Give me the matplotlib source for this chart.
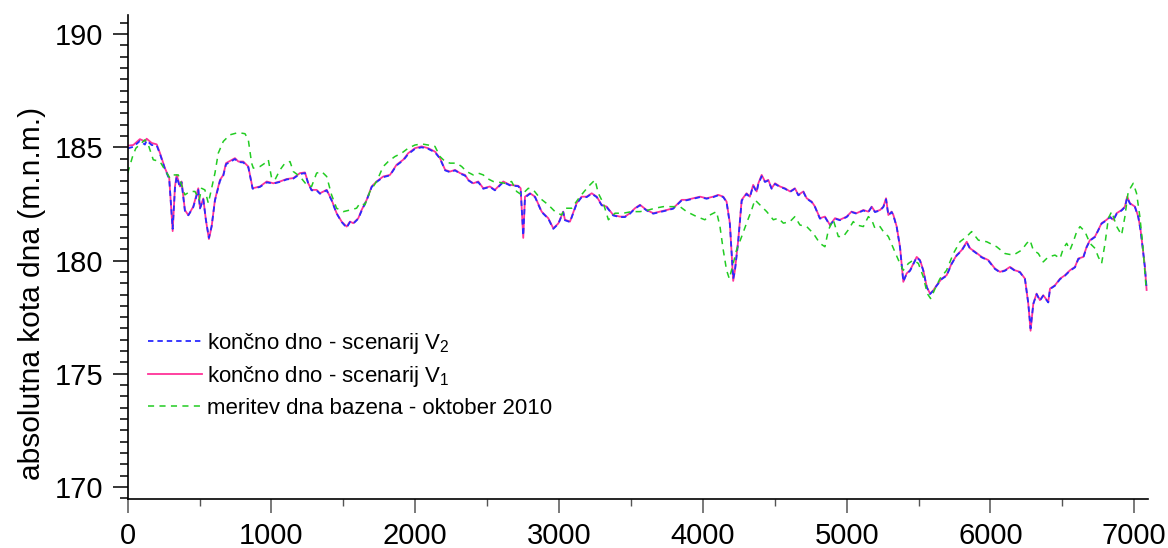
import matplotlib
matplotlib.use("Agg")
import matplotlib.pyplot as plt
from matplotlib.ticker import MultipleLocator

plt.rcParams['font.family'] = ['Liberation Sans', 'DejaVu Sans']
plt.rcParams['mathtext.fontset'] = 'custom'
plt.rcParams['mathtext.rm'] = 'Liberation Sans'
plt.rcParams['mathtext.it'] = 'Liberation Sans:italic'

# ---------------- data ----------------
dist_v = [0, 39, 85, 120, 132, 167, 202, 225, 259, 289, 313, 329, 341, 364, 375, 398, 422, 456, 491, 503,
          526, 544, 565, 584, 607, 642, 665, 684, 746, 770, 804, 839, 869, 920, 967, 1013, 1059, 1106, 1152, 1198,
          1233, 1256, 1279, 1314, 1337, 1384, 1418, 1453, 1488, 1523, 1546, 1569, 1604, 1627, 1662, 1697, 1731, 1777, 1824, 1870,
          1916, 1951, 1998, 2044, 2090, 2137, 2172, 2208, 2242, 2277, 2311, 2346, 2369, 2403, 2438, 2473, 2519, 2554, 2612, 2658,
          2716, 2733, 2751, 2763, 2798, 2833, 2879, 2925, 2960, 2995, 3029, 3041, 3076, 3122, 3157, 3192, 3227, 3262, 3296, 3331,
          3377, 3423, 3458, 3493, 3528, 3563, 3609, 3655, 3702, 3748, 3794, 3853, 3887, 3934, 3980, 4026, 4072, 4107, 4142, 4165,
          4188, 4211, 4223, 4246, 4270, 4304, 4327, 4350, 4374, 4386, 4409, 4432, 4455, 4478, 4502, 4536, 4571, 4606, 4640, 4664,
          4699, 4722, 4757, 4780, 4814, 4849, 4884, 4919, 4953, 5000, 5034, 5069, 5116, 5151, 5174, 5197, 5232, 5255, 5274, 5290,
          5313, 5325, 5348, 5371, 5394, 5417, 5441, 5464, 5487, 5510, 5533, 5557, 5580, 5603, 5626, 5661, 5695, 5730, 5765, 5800,
          5835, 5858, 5892, 5939, 5985, 6031, 6066, 6101, 6136, 6170, 6205, 6240, 6263, 6279, 6298, 6321, 6344, 6367, 6402, 6414,
          6449, 6484, 6518, 6553, 6588, 6611, 6646, 6669, 6692, 6727, 6750, 6773, 6808, 6831, 6855, 6878, 6912, 6935, 6951, 6970,
          7005, 7028, 7044, 7058, 7074, 7086]

bed_v1 = [185.07, 185.10, 185.36, 185.26, 185.38, 185.19, 185.13, 184.74, 184.08, 183.64, 181.3, 183.27, 183.78, 183.27, 183.49, 182.23, 182.0, 182.38, 183.19, 182.31,
          182.74, 181.79, 180.95, 181.5, 182.68, 183.56, 183.78, 184.3, 184.52, 184.37, 184.37, 184.15, 183.19, 183.27, 183.49, 183.41, 183.49, 183.6, 183.64, 183.86,
          183.89, 183.41, 183.12, 183.12, 182.97, 183.12, 182.68, 182.09, 181.72, 181.5, 181.72, 181.65, 181.87, 182.23, 182.68, 183.27, 183.49, 183.71, 183.78, 184.23,
          184.45, 184.74, 184.96, 185.04, 184.96, 184.81, 184.52, 184.0, 183.93, 184.0, 183.86, 183.78, 183.56, 183.41, 183.49, 183.19, 183.27, 183.12, 183.49, 183.34,
          183.3, 183.19, 181.0, 182.82, 182.97, 182.82, 182.16, 181.87, 181.42, 181.64, 182.16, 181.8, 181.72, 182.53, 182.82, 182.82, 182.97, 182.82, 182.46, 182.38,
          182.01, 181.94, 181.94, 182.09, 182.31, 182.46, 182.23, 182.09, 182.16, 182.23, 182.31, 182.68, 182.68, 182.75, 182.82, 182.75, 182.82, 182.9, 182.82, 182.6,
          181.65, 179.1, 179.57, 180.9, 182.68, 182.97, 182.82, 183.34, 183.05, 183.41, 183.78, 183.49, 183.56, 183.19, 183.41, 183.27, 183.19, 183.05, 183.19, 182.9,
          183.05, 182.75, 182.6, 182.38, 181.87, 181.94, 181.57, 181.87, 181.8, 181.94, 182.16, 182.09, 182.23, 182.16, 182.38, 182.16, 182.23, 182.38, 182.75, 182.01,
          182.16, 182.01, 181.5, 180.61, 179.06, 179.43, 179.57, 179.87, 180.16, 180.02, 179.57, 178.84, 178.54, 178.69, 178.91, 179.2, 179.35, 179.87, 180.24, 180.46,
          180.83, 180.54, 180.39, 180.16, 180.02, 179.65, 179.5, 179.57, 179.72, 179.57, 179.5, 179.2, 178.1, 176.9, 178.1, 178.54, 178.25, 178.47, 178.17, 178.76,
          178.91, 179.2, 179.35, 179.57, 179.72, 180.09, 180.16, 180.61, 180.9, 181.06, 181.35, 181.65, 181.8, 181.94, 181.8, 182.09, 182.23, 182.38, 182.82, 182.53,
          182.38, 181.94, 181.35, 180.61, 179.72, 178.7]

bed_v2 = [184.95, 185.02, 185.28, 185.12, 185.30, 185.10, 185.08, 184.70, 184.05, 183.60, 181.4, 183.20, 183.70, 183.22, 183.45, 182.20, 182.0, 182.35, 183.12, 182.30,
          182.70, 181.80, 181.0, 181.52, 182.65, 183.52, 183.75, 184.25, 184.48, 184.35, 184.33, 184.12, 183.17, 183.25, 183.45, 183.40, 183.47, 183.58, 183.62, 183.82,
          183.86, 183.40, 183.10, 183.10, 182.95, 183.10, 182.66, 182.08, 181.70, 181.45, 181.70, 181.63, 181.85, 182.20, 182.66, 183.25, 183.47, 183.68, 183.76, 184.20,
          184.42, 184.70, 184.93, 185.00, 184.93, 184.78, 184.50, 183.98, 183.90, 183.98, 183.84, 183.75, 183.54, 183.40, 183.46, 183.17, 183.25, 183.10, 183.46, 183.32,
          183.28, 183.15, 181.1, 182.78, 182.95, 182.80, 182.14, 181.85, 181.40, 181.62, 182.14, 181.78, 181.70, 182.50, 182.80, 182.80, 182.95, 182.80, 182.44, 182.36,
          181.99, 181.92, 181.92, 182.07, 182.29, 182.44, 182.21, 182.07, 182.14, 182.21, 182.29, 182.66, 182.66, 182.73, 182.80, 182.73, 182.80, 182.88, 182.80, 182.58,
          181.60, 179.2, 179.55, 180.85, 182.64, 182.94, 182.80, 183.30, 183.03, 183.38, 183.72, 183.47, 183.53, 183.17, 183.38, 183.25, 183.17, 183.03, 183.17, 182.88,
          183.03, 182.73, 182.58, 182.36, 181.85, 181.92, 181.55, 181.85, 181.78, 181.92, 182.14, 182.07, 182.21, 182.14, 182.36, 182.14, 182.21, 182.36, 182.70, 182.00,
          182.14, 181.99, 181.48, 180.58, 179.08, 179.41, 179.55, 179.85, 180.14, 180.00, 179.55, 178.82, 178.52, 178.67, 178.89, 179.18, 179.33, 179.85, 180.22, 180.44,
          180.80, 180.52, 180.37, 180.14, 180.00, 179.63, 179.48, 179.55, 179.70, 179.55, 179.48, 179.18, 178.12, 177.0, 178.08, 178.52, 178.23, 178.45, 178.15, 178.74,
          178.89, 179.18, 179.33, 179.55, 179.70, 180.07, 180.14, 180.59, 180.88, 181.04, 181.33, 181.63, 181.78, 181.92, 181.78, 182.07, 182.21, 182.36, 182.78, 182.51,
          182.36, 181.92, 181.33, 180.59, 179.70, 178.75]

dist_meas = [0, 34, 57, 120, 144, 178, 225, 259, 294, 317, 352, 375, 398, 433, 468, 498, 514, 537, 561, 584,
             607, 630, 665, 711, 769, 816, 839, 862, 874, 920, 955, 978, 1001, 1024, 1059, 1094, 1129, 1152, 1198, 1245,
             1279, 1314, 1349, 1384, 1418, 1453, 1500, 1546, 1592, 1615, 1650, 1685, 1731, 1777, 1812, 1858, 1905, 1951, 1998, 2044,
             2090, 2137, 2172, 2208, 2242, 2288, 2323, 2357, 2403, 2438, 2473, 2496, 2542, 2589, 2624, 2670, 2705, 2740, 2786, 2821,
             2868, 2925, 2972, 3018, 3041, 3088, 3145, 3204, 3250, 3273, 3308, 3343, 3389, 3447, 3505, 3563, 3621, 3667, 3725, 3771,
             3841, 3887, 3957, 4014, 4049, 4095, 4119, 4142, 4165, 4184, 4211, 4234, 4270, 4304, 4339, 4362, 4397, 4444, 4490, 4525,
             4560, 4606, 4640, 4675, 4722, 4768, 4814, 4849, 4873, 4907, 4942, 4977, 5011, 5046, 5069, 5116, 5151, 5174, 5197, 5232,
             5255, 5290, 5325, 5360, 5394, 5429, 5464, 5499, 5533, 5561, 5584, 5615, 5649, 5695, 5742, 5788, 5835, 5869, 5916, 5974,
             6043, 6101, 6159, 6217, 6252, 6275, 6298, 6333, 6367, 6402, 6449, 6484, 6507, 6530, 6553, 6576, 6600, 6623, 6657, 6692,
             6727, 6750, 6773, 6797, 6820, 6843, 6878, 6912, 6935, 6958, 6993, 7016, 7039, 7058, 7081]

bed_meas = [183.86, 184.59, 184.96, 185.33, 185.1, 184.45, 184.37, 184.0, 183.64, 183.78, 183.78, 183.34, 182.9, 183.05, 183.05, 182.68, 183.19, 183.12, 182.53, 183.19,
            183.86, 184.74, 185.26, 185.55, 185.65, 185.6, 185.33, 184.3, 184.08, 184.15, 184.3, 184.45, 183.64, 183.56, 184.0, 184.3, 184.37, 183.93, 183.71, 183.34,
            183.27, 183.86, 183.93, 183.71, 182.9, 182.31, 182.16, 182.23, 182.31, 182.53, 182.46, 183.05, 183.49, 184.15, 184.37, 184.59, 184.74, 184.96, 185.1, 185.15,
            185.1, 185.04, 184.59, 184.37, 184.3, 184.3, 184.15, 183.93, 183.78, 183.86, 183.78, 183.64, 183.49, 183.45, 183.41, 183.49, 183.05, 182.9, 183.19, 183.12,
            182.75, 182.46, 182.16, 182.01, 182.31, 182.31, 182.82, 183.27, 183.56, 182.97, 182.53, 181.8, 182.09, 182.09, 182.16, 182.16, 182.23, 182.31, 182.38, 182.38,
            182.38, 182.16, 181.94, 181.8, 182.01, 182.16, 181.5, 180.46, 179.57, 179.2, 179.86, 180.46, 181.06, 181.65, 182.23, 182.68, 182.46, 182.16, 181.8, 181.87,
            181.65, 181.72, 181.94, 181.57, 181.5, 181.2, 180.76, 180.61, 181.35, 181.8, 181.06, 181.06, 181.35, 181.72, 181.57, 181.5, 181.94, 181.8, 181.42, 181.5,
            181.28, 181.06, 180.54, 180.02, 179.57, 179.87, 180.02, 179.87, 179.28, 178.54, 178.32, 178.76, 179.2, 179.57, 180.31, 180.83, 181.06, 181.28, 180.9, 180.83,
            180.61, 180.31, 180.24, 180.46, 180.76, 180.9, 180.46, 180.31, 179.94, 180.16, 180.24, 180.09, 180.54, 180.76, 180.46, 180.83, 181.28, 181.5, 181.28, 180.76,
            180.54, 180.16, 179.87, 180.76, 181.87, 182.16, 181.5, 181.13, 181.94, 183.04, 183.41, 182.97, 181.94, 180.76, 178.91]

label_v2 = 'končno dno - scenarij V$_2$'
label_v1 = 'končno dno - scenarij V$_1$'
label_meas = 'meritev dna bazena - oktober 2010'
y_label = 'absolutna kota dna (m.n.m.)'
x_ticks = [0, 1000, 2000, 3000, 4000, 5000, 6000, 7000]
y_ticks = [170, 175, 180, 185, 190]

# ---------------- plot ----------------
fig = plt.figure(figsize=(11.68, 5.48), dpi=100)
ax = fig.add_axes([0.1093, 0.0889, 0.8735, 0.8837])

ln_v1, = ax.plot(dist_v, bed_v1, color='#ff3399', lw=1.3, solid_joinstyle='round')
ln_v2, = ax.plot(dist_v, bed_v2, color='#2a2aff', lw=1.3, dashes=(3.0, 2.2))
ln_m, = ax.plot(dist_meas, bed_meas, color='#22cc22', lw=1.1, dashes=(4.0, 3.5))

ax.set_xlim(0, 7095)
ax.set_ylim(169.46, 190.84)
ax.set_xticks(x_ticks)
ax.set_yticks(y_ticks)
ax.xaxis.set_minor_locator(MultipleLocator(500))
ax.yaxis.set_minor_locator(MultipleLocator(0.5))

for s in ('top', 'right'):
    ax.spines[s].set_visible(False)
for s in ('left', 'bottom'):
    ax.spines[s].set_linewidth(1.2)
    ax.spines[s].set_color('black')

ax.tick_params(axis='both', which='major', direction='out', labelsize=21, width=1.1)
ax.tick_params(axis='y', which='major', length=10.5, pad=7)
ax.tick_params(axis='y', which='minor', length=5.5, width=1.1)
ax.tick_params(axis='x', which='major', length=10, pad=6, color='#555555')
ax.tick_params(axis='x', which='minor', length=5, width=1.0, color='#555555')

ax.set_ylabel(y_label, fontsize=21.5)
ax.yaxis.set_label_coords(-0.080, 0.425)

leg = ax.legend([ln_v2, ln_v1, ln_m], [label_v2, label_v1, label_meas],
                loc='upper left', bbox_to_anchor=(0.0199, 0.348), frameon=False,
                fontsize=16, handlelength=2.45, handletextpad=0.22, labelspacing=0.38,
                borderpad=0, borderaxespad=0)

fig.savefig('out.png', dpi=100)
